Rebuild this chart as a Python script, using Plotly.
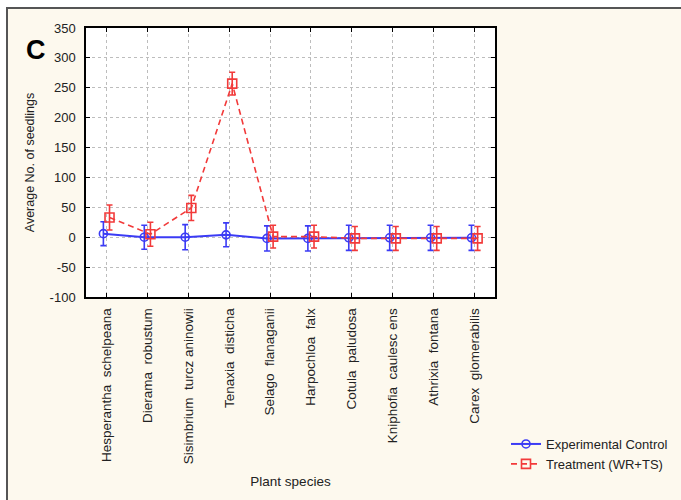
import plotly.graph_objects as go

species = [
    "Hesperantha  schelpeana", "Dierama  robustum", "Sisimbrium  turcz aninowii",
    "Tenaxia  disticha", "Selago  flanaganii", "Harpochloa  falx", "Cotula  paludosa",
    "Kniphofia  caulesc ens", "Athrixia  fontana", "Carex  glomerabilis",
]
control_mean = [6, 0, 0, 4, -2, -2, -1, -1, -1, -1]
control_err = [20, 20, 21, 20, 21, 21, 21, 21, 21, 21]
treatment_mean = [33, 5, 49, 257, 1, 1, -2, -2, -2, -2]
treatment_err = [21, 20, 21, 19, 19, 19, 20, 20, 20, 20]
y_ticks = [-100, -50, 0, 50, 100, 150, 200, 250, 300, 350]
y_ticktext = ["-100", "-50", "0", "50", "100", "150", "200", "250", "300", "350"]

BLUE = "#3b3bf5"
RED = "#f23a3a"
CREAM = "#fdf9ee"
shift = 0.075

idx = list(range(len(species)))

fig = go.Figure()
fig.add_trace(go.Scatter(
    x=[i - shift for i in idx], y=control_mean, mode="lines+markers",
    name="Experimental Control",
    line=dict(color=BLUE, width=2),
    marker=dict(symbol="circle-open", size=8, color=BLUE, line=dict(width=1.6)),
    error_y=dict(type="data", array=control_err, color=BLUE, thickness=1.6, width=3),
))
fig.add_trace(go.Scatter(
    x=[i + shift for i in idx], y=treatment_mean, mode="lines+markers",
    name="Treatment (WR+TS)",
    line=dict(color=RED, width=1.6, dash="6px,4px"),
    marker=dict(symbol="square-open", size=9, color=RED, line=dict(width=1.6)),
    error_y=dict(type="data", array=treatment_err, color=RED, thickness=1.6, width=3),
))

L, R, T, B = 86, 495, 28, 297
W, H = 681, 500
pw, ph = R - L, B - T


def px_x(p):
    return (p - L) / pw


def px_y(p):
    return (B - p) / ph


# cream panel with a grey frame, white plotting area on top of it
fig.add_shape(type="rect", xref="paper", yref="paper", layer="below",
              x0=px_x(7), x1=px_x(W + 20), y0=px_y(H + 20), y1=px_y(8),
              fillcolor=CREAM, line=dict(color="#555555", width=2))
fig.add_shape(type="rect", xref="paper", yref="paper", layer="below",
              x0=0, x1=1, y0=0, y1=1, fillcolor="white", line=dict(width=0))

fig.add_annotation(text="<b>C</b>", xref="paper", yref="paper",
                   x=px_x(24), y=px_y(33), showarrow=False,
                   font=dict(family="Arial, Liberation Sans", size=27, color="black"))

fig.update_layout(
    width=W, height=H,
    margin=dict(l=L, r=W - R, t=T, b=H - B, autoexpand=False),
    paper_bgcolor="white", plot_bgcolor="white",
    font=dict(family="Arial, Liberation Sans", size=12, color="#222222"),
    showlegend=True,
    legend=dict(xref="container", yref="container",
                x=506 / W, y=1 - 429 / H, xanchor="left", yanchor="top",
                bgcolor="rgba(0,0,0,0)", font=dict(size=13, color="#222222"),
                tracegroupgap=0, itemwidth=30),
)
fig.update_xaxes(
    range=[-0.5, len(species) - 0.5], tickmode="array", tickvals=idx, ticktext=species,
    tickangle=-90, ticks="inside", ticklen=4, tickcolor="black",
    showline=True, linecolor="black", linewidth=1.5, mirror="ticks",
    showgrid=True, gridcolor="#bdbdbd", griddash="dot", gridwidth=1,
    zeroline=False, ticklabelstandoff=4, tickfont=dict(size=13.5),
    title=dict(text="Plant species", font=dict(size=13.5), standoff=13),
)
fig.update_yaxes(
    range=[-100, 350], tickmode="array", tickvals=y_ticks, ticktext=y_ticktext,
    ticks="inside", ticklen=4, tickcolor="black",
    showline=True, linecolor="black", linewidth=1.5, mirror="ticks",
    showgrid=True, gridcolor="#bdbdbd", griddash="dot", gridwidth=1,
    zeroline=False, ticklabelstandoff=6, tickfont=dict(size=13),
    title=dict(text="Average No. of seedlings", font=dict(size=12.5), standoff=12),
)

fig.write_html("out.html")
